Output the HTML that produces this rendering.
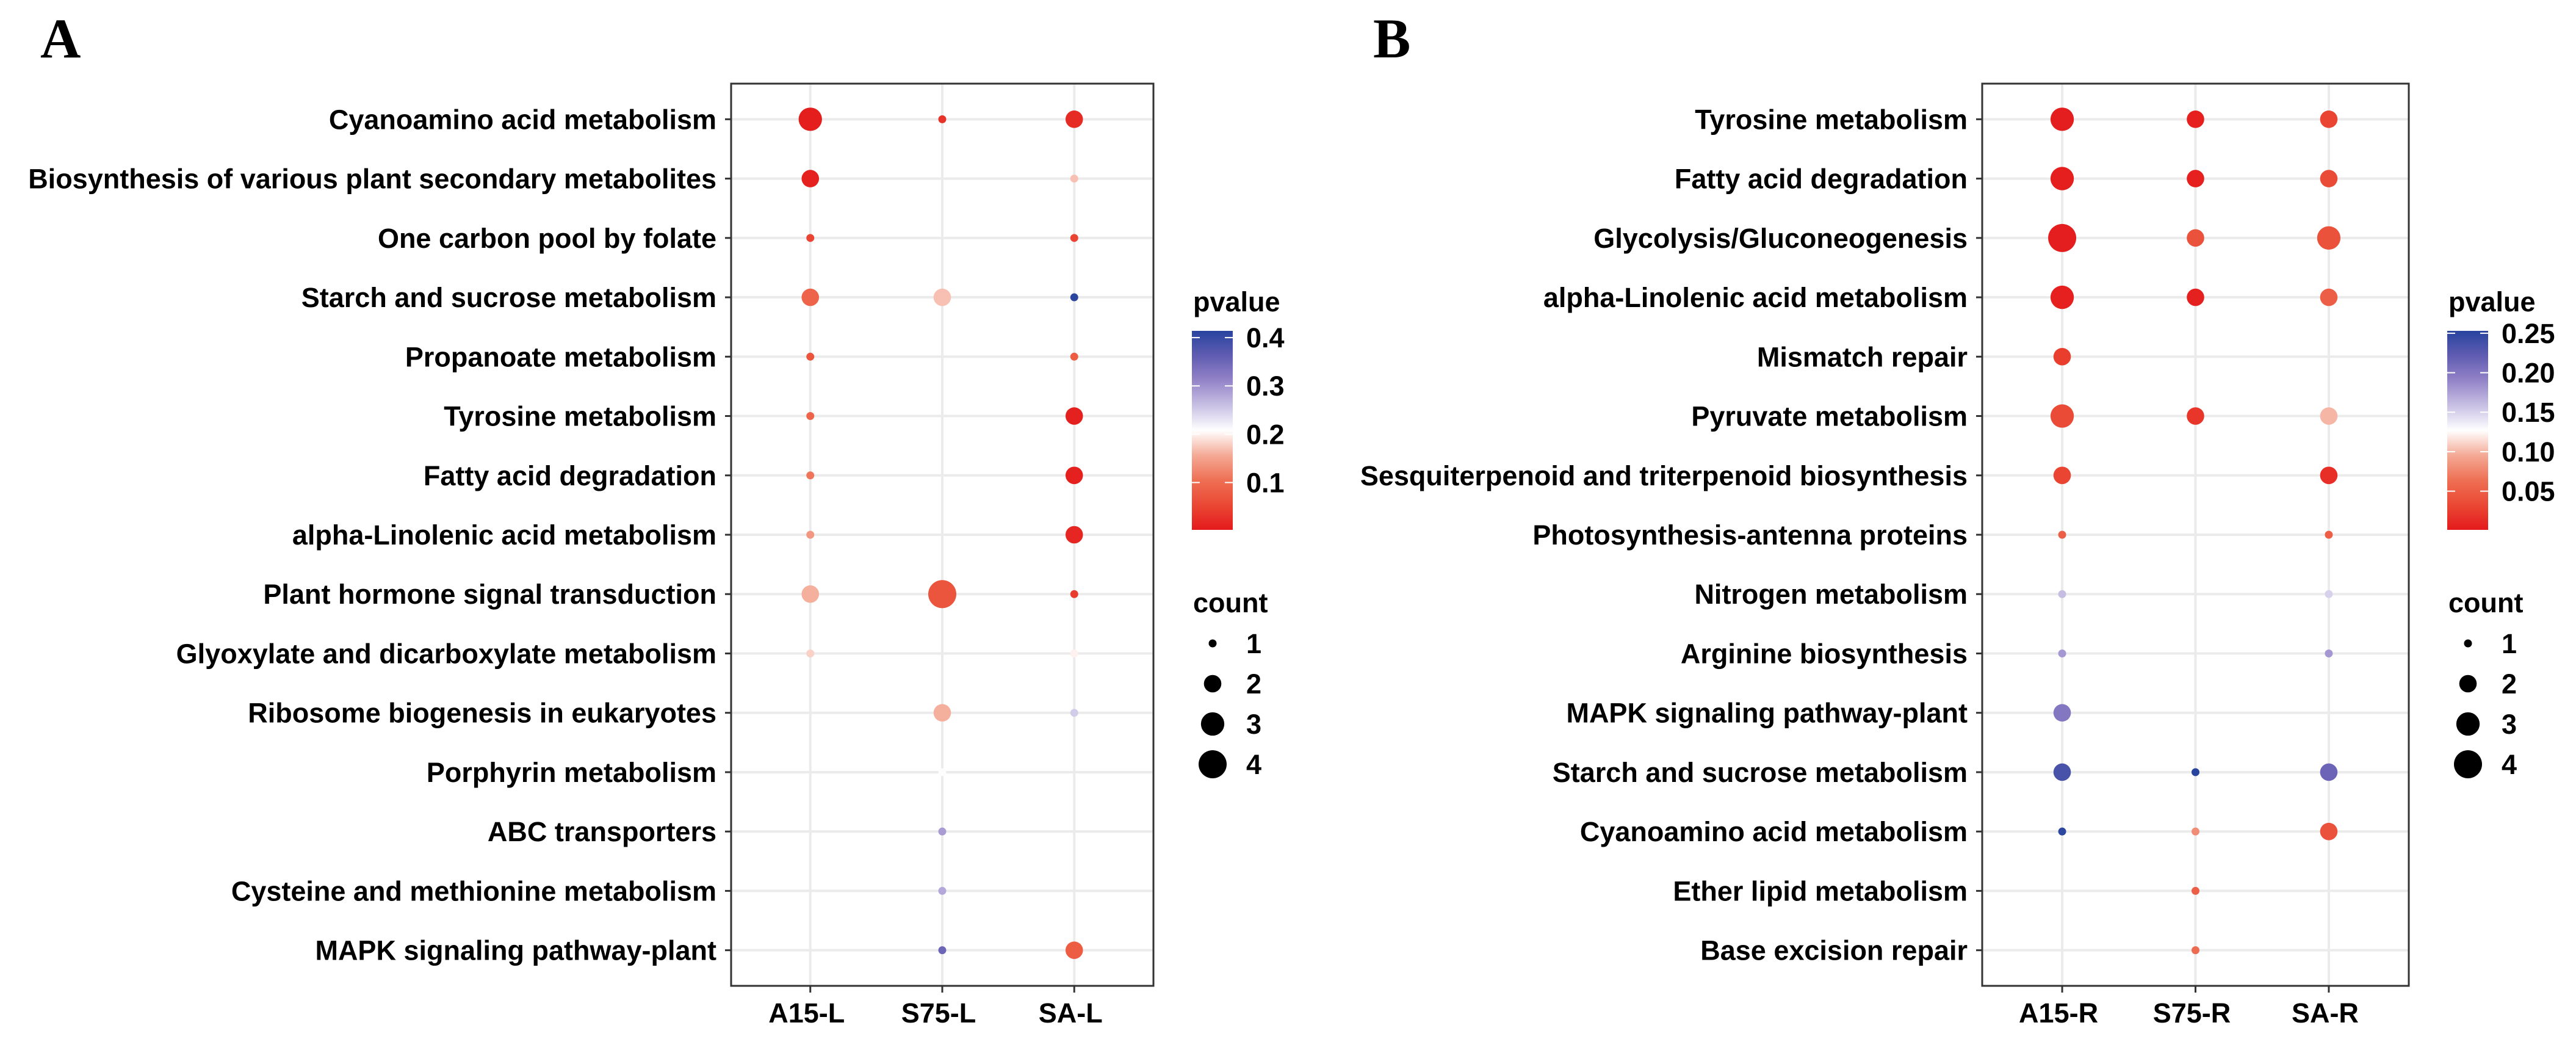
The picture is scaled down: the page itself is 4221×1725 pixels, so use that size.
<!DOCTYPE html>
<html><head><meta charset="utf-8"><style>
html,body{margin:0;padding:0;background:#fff}
svg{display:block}
text{font-family:"Liberation Sans",Arial,sans-serif;font-weight:bold;fill:#000}
</style></head><body>
<svg id="fig" width="4221" height="1725" viewBox="0 0 4221 1725" xmlns="http://www.w3.org/2000/svg">
<defs>
<linearGradient id="gA" x1="0" y1="1" x2="0" y2="0"></linearGradient>
<linearGradient id="gB" x1="0" y1="1" x2="0" y2="0"></linearGradient>
</defs>
<text x="66" y="94" style="font-family:'Liberation Serif',serif;font-size:92px">A</text>
<text x="2250" y="94" style="font-family:'Liberation Serif',serif;font-size:92px">B</text>
<g id="panelA"></g>
<g id="panelB"></g>
</svg>
<script>
// Panel A data
const catsA = ["Cyanoamino acid metabolism","Biosynthesis of various plant secondary metabolites","One carbon pool by folate","Starch and sucrose metabolism","Propanoate metabolism","Tyrosine metabolism","Fatty acid degradation","alpha-Linolenic acid metabolism","Plant hormone signal transduction","Glyoxylate and dicarboxylate metabolism","Ribosome biogenesis in eukaryotes","Porphyrin metabolism","ABC transporters","Cysteine and methionine metabolism","MAPK signaling pathway-plant"];
const groupsA = ["A15-L","S75-L","SA-L"];
const countA_A15 = [3,2,1,2,1,1,1,1,2,1,null,null,null,null,null];
const pA_A15     = [0.005,0.01,0.05,0.09,0.07,0.09,0.11,0.14,0.16,0.18,null,null,null,null,null];
const countA_S75 = [1,null,null,2,null,null,null,null,4,null,2,1,1,1,1];
const pA_S75     = [0.03,null,null,0.17,null,null,null,null,0.07,null,0.16,0.21,0.29,0.28,0.35];
const countA_SA  = [2,1,1,1,1,2,2,2,1,1,1,null,null,null,2];
const pA_SA      = [0.02,0.17,0.05,0.41,0.08,0.01,0.01,0.015,0.04,0.2,0.25,null,null,null,0.08];
const ticksA = [0.1,0.2,0.3,0.4];
const tickLabelsA = ["0.1","0.2","0.3","0.4"];
// Panel B data
const catsB = ["Tyrosine metabolism","Fatty acid degradation","Glycolysis/Gluconeogenesis","alpha-Linolenic acid metabolism","Mismatch repair","Pyruvate metabolism","Sesquiterpenoid and triterpenoid biosynthesis","Photosynthesis-antenna proteins","Nitrogen metabolism","Arginine biosynthesis","MAPK signaling pathway-plant","Starch and sucrose metabolism","Cyanoamino acid metabolism","Ether lipid metabolism","Base excision repair"];
const groupsB = ["A15-R","S75-R","SA-R"];
const countB_A15 = [3,3,4,3,2,3,2,1,1,1,2,2,1,null,null];
const pB_A15     = [0.003,0.004,0.003,0.005,0.025,0.035,0.03,0.05,0.16,0.18,0.2,0.235,0.25,null,null];
const countB_S75 = [2,2,2,2,null,2,null,null,null,null,null,1,1,1,1];
const pB_S75     = [0.005,0.005,0.04,0.006,null,0.02,null,null,null,null,null,0.253,0.08,0.05,0.06];
const countB_SA  = [2,2,3,2,null,2,2,1,1,1,null,2,2,null,null];
const pB_SA      = [0.03,0.035,0.04,0.05,null,0.1,0.015,0.05,0.15,0.18,null,0.215,0.04,null,null];
const ticksB = [0.05,0.10,0.15,0.20,0.25];
const tickLabelsB = ["0.05","0.10","0.15","0.20","0.25"];
const countKeys = [1,2,3,4];

const NS="http://www.w3.org/2000/svg";
function mk(tag,attrs,parent){const e=document.createElementNS(NS,tag);for(const k in attrs)e.setAttribute(k,attrs[k]);parent.appendChild(e);return e;}
const PAL=[[0,[228,26,28]],[0.125,[234,72,52]],[0.25,[238,112,84]],[0.375,[244,170,150]],[0.5,[255,255,255]],[0.625,[200,192,228]],[0.75,[148,132,200]],[0.875,[96,92,178]],[1,[40,68,158]]];
function palAt(t){t=Math.max(0,Math.min(1,t));for(let k=1;k<PAL.length;k++){if(t<=PAL[k][0]){const [t0,a]=PAL[k-1],[t1,b]=PAL[k];const u=(t-t0)/(t1-t0);return 'rgb('+a.map((v,i)=>Math.round(v+(b[i]-v)*u)).join(',')+')';}}return 'rgb(40,68,158)';}
function radius(n){const r1=6.5,r4=23;return Math.sqrt(r1*r1+(n-1)/3*(r4*r4-r1*r1));}
const LABEL_FS=45, HSCALE=1.0;

function drawPanel(g,cfg){
  const {cats,groups,counts,pvals,left,right,top,bottom,pmin,pmax,ticks,tickLabels,gradId,barX}=cfg;
  const ny=cats.length,nx=groups.length;
  const stepY=(bottom-top)/(ny-1+1.2),stepX=(right-left)/(nx-1+1.2);
  const yScale=i=>top+stepY*(0.6+i);
  const xScale=j=>left+stepX*(0.6+j);
  const col=p=>palAt((p-pmin)/(pmax-pmin));
  cats.forEach((c,i)=>{const l=mk('line',{x1:left,x2:right,y1:yScale(i),y2:yScale(i),stroke:'#ebebeb','stroke-width':4},g);
    
    });
  groups.forEach((c,j)=>{const l=mk('line',{x1:xScale(j),x2:xScale(j),y1:top,y2:bottom,stroke:'#ebebeb','stroke-width':4},g);
    
    });
  groups.forEach((gname,j)=>{
    cats.forEach((c,i)=>{
      const n=counts[j][i],p=pvals[j][i];
      if(n==null)return;
      const ci=mk('circle',{cx:xScale(j),cy:yScale(i),r:radius(n),fill:col(p)},g);
      
      
    });
  });
  const fr=mk('rect',{x:left,y:top,width:right-left,height:bottom-top,fill:'none',stroke:'#333','stroke-width':3},g);
  
  
  cats.forEach((c,i)=>{
    const y=yScale(i);
    const tk=mk('line',{x1:left-10,x2:left,y1:y,y2:y,stroke:'#333','stroke-width':3},g);
    
    
    const ax=left-24;
    const t=mk('text',{x:0,y:0,'text-anchor':'end','font-size':LABEL_FS,transform:'translate('+ax+','+(y+16)+') scale('+HSCALE+',1)'},g);
    t.textContent=c;
    
    
  });
  groups.forEach((c,j)=>{
    const x=xScale(j);
    const tk=mk('line',{x1:x,x2:x,y1:bottom,y2:bottom+11,stroke:'#333','stroke-width':3},g);
    
    
    const t=mk('text',{x:0,y:0,'text-anchor':'middle','font-size':LABEL_FS,transform:'translate('+(x-6)+',1675) scale('+HSCALE+',1)'},g);
    t.textContent=c;
    
    
  });
  const barTop=542,barBot=868,barW=67;
  const grad=document.getElementById(gradId);
  PAL.forEach(([o,c])=>{mk('stop',{offset:o,'stop-color':'rgb('+c.join(',')+')'},grad);});
  const tt=mk('text',{x:barX+2,y:510,'font-size':LABEL_FS},g);
  tt.textContent='pvalue';
  
  
  const bar=mk('rect',{x:barX,y:barTop,width:barW,height:barBot-barTop,fill:'url(#'+gradId+')'},g);
  
  
  const vy=v=>barBot-(v-pmin)/(pmax-pmin)*(barBot-barTop);
  ticks.forEach((v,k)=>{
    const y=vy(v);
    mk('line',{x1:barX,x2:barX+13,y1:y,y2:y,stroke:'#fff','stroke-width':2},g);
    mk('line',{x1:barX+barW-13,x2:barX+barW,y1:y,y2:y,stroke:'#fff','stroke-width':2},g);
    const t=mk('text',{x:barX+89,y:y+16,'font-size':LABEL_FS},g);
    t.textContent=tickLabels[k];
    
    
  });
  const ct=mk('text',{x:barX+2,y:1003,'font-size':LABEL_FS},g);
  ct.textContent='count';
  
  
  countKeys.forEach((n,k)=>{
    const y=1054+k*66;
    const c=mk('circle',{cx:barX+34,cy:y,r:radius(n),fill:'#000'},g);
    
    
    const t=mk('text',{x:barX+89,y:y+16,'font-size':LABEL_FS},g);
    t.textContent=String(n);
    
    
  });
}
drawPanel(document.getElementById('panelA'),{cats:catsA,groups:groupsA,counts:[countA_A15,countA_S75,countA_SA],pvals:[pA_A15,pA_S75,pA_SA],left:1198,right:1890,top:137,bottom:1615,pmin:0.002,pmax:0.414,ticks:ticksA,tickLabels:tickLabelsA,gradId:'gA',barX:1953});
drawPanel(document.getElementById('panelB'),{cats:catsB,groups:groupsB,counts:[countB_A15,countB_S75,countB_SA],pvals:[pB_A15,pB_S75,pB_SA],left:3248,right:3947,top:137,bottom:1615,pmin:0.001,pmax:0.253,ticks:ticksB,tickLabels:tickLabelsB,gradId:'gB',barX:4010});
</script>
</body></html>
